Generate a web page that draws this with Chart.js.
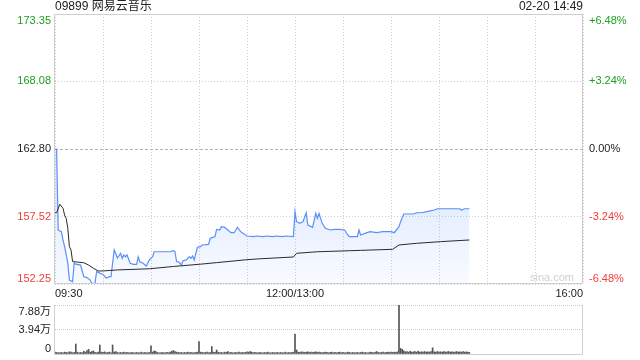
<!DOCTYPE html>
<html>
<head>
<meta charset="utf-8">
<script src="https://cdn.jsdelivr.net/npm/chart.js@4/dist/chart.umd.min.js"></script>
<style>
  body { margin: 0; background: #fff; }
  #wrap { position: relative; width: 640px; height: 360px; }
  #priceBox { position: absolute; left: 0; top: 0; }
  #volBox { position: absolute; left: 0; top: 300px; }
</style>
</head>
<body>
<div id="wrap">
  <div id="priceBox"><canvas id="priceChart" width="640" height="300"></canvas></div>
  <div id="volBox"><canvas id="volChart" width="640" height="60"></canvas></div>
</div>
<script>
// Dados: minutos desde 09:30 (almoço 12:00-13:00 removido)
const stockTitle = '09899 网易云音乐';
const stampText = '02-20 14:49';

const priceMinutes = [0, 1, 2, 4, 5, 6, 8, 9, 11, 12, 13, 16, 18, 20, 22, 23, 25, 26, 28, 30,
  32, 34, 35, 37, 39, 41, 42, 43, 44, 45, 47, 49, 51, 52, 53, 55, 57, 59, 61, 62,
  72, 74, 75, 76, 77, 78, 79, 80, 82, 84, 85, 86, 87, 89, 91, 92, 96, 97, 100, 101,
  103, 104, 106, 108, 110, 112, 114, 116, 117, 120, 124, 126, 130, 132, 136, 138, 142, 144, 149,
  150, 151, 153, 155, 157, 158, 161, 163, 164, 165, 167, 169, 172, 175, 178, 181, 183, 184, 189,
  190, 191, 195, 197, 201, 205, 210, 212, 215, 216, 218, 224, 226, 229, 234, 237, 239, 253, 254, 256, 259];
const priceValues = [162.80, 162.80, 156.47, 156.34, 155.69, 155.17, 153.89, 152.56, 152.43, 153.89, 153.80, 153.73, 152.82, 152.75, 152.56, 152.30, 152.30, 153.21, 153.10, 153.00,
  152.72, 152.82, 152.82, 154.91, 154.28, 154.64, 154.26, 154.52, 154.38, 154.52, 153.87, 153.78, 153.78, 154.38, 153.99, 153.87, 153.66, 154.13, 154.38, 154.77,
  154.77, 154.85, 154.77, 153.99, 153.99, 153.89, 153.73, 154.07, 154.13, 154.38, 154.26, 154.44, 154.13, 155.12, 155.17, 155.30, 155.35, 155.82, 155.95, 156.52,
  156.47, 156.73, 156.68, 156.47, 156.26, 156.26, 156.68, 156.34, 156.26, 156.00, 155.95, 156.00, 155.95, 156.00, 155.95, 156.00, 155.95, 156.00, 155.95,
  157.90, 157.12, 156.99, 157.12, 157.82, 156.86, 156.68, 157.77, 157.38, 157.77, 156.99, 156.60, 156.47, 156.52, 156.52, 156.47, 156.08, 155.95, 155.95,
  156.47, 156.08, 156.26, 156.34, 156.26, 156.34, 156.34, 156.26, 156.73, 157.12, 157.72, 157.72, 157.82, 157.82, 157.95, 158.03, 158.13, 158.13, 158.03, 158.13, 158.13];

const avgMinutes = [0, 1, 3, 5, 6, 7, 8, 9, 10, 11, 18, 21, 24, 27, 30, 39, 59, 74, 91, 101,
  120, 128, 149, 151, 164, 184, 191, 211, 215, 226, 241, 259];
const avgValues = [157.82, 157.82, 158.48, 158.17, 157.64, 157.38, 156.60, 155.17, 154.91, 154.00, 153.91, 153.73, 153.48, 153.27, 153.27, 153.35, 153.44, 153.62, 153.80, 153.92,
  154.15, 154.22, 154.36, 154.65, 154.77, 154.85, 154.88, 154.96, 155.30, 155.43, 155.56, 155.69];

// volume por minuto (万股), minuto 0..259
const volumeValues = [
  0.3, 0.25, 0.2, 0.2, 0.25, 0.2, 0.3, 0.25, 0.2, 0.35,
  0.3, 0.2, 0.25, 1.6, 0.3, 0.2, 0.25, 0.2, 0.45, 0.3,
  0.55, 0.75, 0.3, 0.4, 0.5, 0.25, 0.2, 0.3, 1.45, 0.3,
  0.25, 0.35, 0.2, 0.25, 0.3, 0.2, 1.45, 0.3, 0.4, 0.25,
  0.2, 0.25, 0.2, 0.3, 0.2, 0.25, 0.2, 0.2, 0.25, 0.2,
  0.2, 0.25, 0.2, 0.2, 0.3, 0.2, 0.25, 0.2, 0.2, 0.25,
  1.3, 0.3, 0.5, 0.4, 0.25, 0.2, 0.2, 0.25, 0.2, 0.2,
  0.25, 0.2, 0.3, 0.45, 0.55, 0.4, 0.3, 0.25, 0.2, 0.25,
  0.2, 0.25, 0.2, 0.3, 0.2, 0.25, 0.2, 0.2, 0.25, 0.3,
  2.0, 0.3, 0.25, 0.2, 0.25, 0.3, 0.2, 0.25, 1.2, 0.3,
  0.25, 0.65, 0.3, 0.2, 0.25, 0.2, 0.3, 0.25, 0.4, 0.2,
  0.25, 0.2, 0.2, 0.25, 0.2, 0.3, 0.2, 0.25, 0.2, 0.25,
  0.35, 0.3, 0.4, 0.3, 0.2, 0.25, 0.2, 0.2, 0.25, 0.2,
  0.2, 0.25, 0.2, 0.3, 0.2, 0.2, 0.25, 0.2, 0.2, 0.25,
  0.2, 0.25, 0.2, 0.2, 0.3, 0.2, 0.25, 0.2, 0.25, 0.3,
  3.2, 0.65, 0.3, 0.25, 0.35, 0.3, 0.25, 0.3, 0.35, 0.25,
  0.3, 0.25, 0.3, 0.35, 0.25, 0.3, 0.25, 0.2, 0.25, 0.3,
  0.25, 0.2, 0.25, 0.3, 0.2, 0.25, 0.2, 0.25, 0.3, 0.2,
  0.25, 0.2, 0.2, 0.3, 0.25, 0.2, 0.25, 0.2, 0.2, 0.25,
  0.2, 0.25, 0.3, 0.2, 0.25, 0.2, 0.2, 0.3, 0.25, 0.2,
  0.25, 0.4, 0.25, 0.2, 0.25, 0.3, 0.2, 0.25, 0.3, 0.25,
  0.3, 0.25, 0.3, 0.25, 0.35, 7.88, 0.9, 0.75, 0.5, 0.35,
  0.4, 0.3, 0.45, 0.3, 0.35, 0.4, 0.3, 0.45, 0.3, 0.35,
  0.3, 0.4, 0.3, 0.35, 0.3, 0.4, 1.0, 0.35, 0.3, 0.4,
  0.3, 0.35, 0.3, 0.4, 0.3, 0.35, 0.4, 0.3, 0.35, 0.3,
  0.3, 0.4, 0.3, 0.35, 0.3, 0.4, 0.3, 0.35, 0.3, 0.25];

// rótulos dos eixos
const priceTicks = [152.25, 157.52, 162.80, 168.08, 173.35];
const pctLabels = ['-6.48%', '-3.24%', '0.00%', '+3.24%', '+6.48%'];
const timeTicks = [0, 150, 330];
const timeLabels = ['09:30', '12:00/13:00', '16:00'];
const volTicks = [0, 3.94, 7.88];
const volLabels = ['0', '3.94万', '7.88万'];

const prevClose = 162.80;
const FONT = '"Liberation Sans", Arial, "Noto Sans CJK SC", sans-serif';
const GREEN = '#1f9e1f';
const RED = '#f03c3c';

function colorFor(v) {
    if (Math.abs(v - prevClose) < 0.001) return '#222';
    return v > prevClose ? GREEN : RED;
}

// desenha rótulo alinhado por dentro nas extremidades
function drawYLabel(ctx, text, x, y, i, n, align) {
    ctx.textAlign = align;
    if (i === 0) { ctx.textBaseline = 'bottom'; ctx.fillText(text, x, y); }
    else if (i === n - 1) { ctx.textBaseline = 'top'; ctx.fillText(text, x, y + 1); }
    else { ctx.textBaseline = 'middle'; ctx.fillText(text, x, y); }
}

const priceOverlay = {
    id: 'priceOverlay',
    beforeDatasetsDraw(chart) {
        // linha do fecho anterior, tracejada e mais escura
        const { ctx, chartArea: a, scales } = chart;
        const y = Math.round(scales.y.getPixelForValue(prevClose)) + 0.5;
        ctx.save();
        ctx.strokeStyle = '#b0b0b0';
        ctx.lineWidth = 1;
        ctx.setLineDash([3, 2]);
        ctx.beginPath();
        ctx.moveTo(a.left, y);
        ctx.lineTo(a.right, y);
        ctx.stroke();
        ctx.restore();
    },
    afterDraw(chart) {
        const { ctx, chartArea: a, scales } = chart;
        ctx.save();
        // moldura
        ctx.strokeStyle = '#cfcfcf';
        ctx.lineWidth = 1;
        ctx.strokeRect(Math.round(a.left) - 0.5, Math.round(a.top) + 0.5, Math.round(a.right - a.left), Math.round(a.bottom - a.top) - 1);

        // título e hora
        ctx.font = '12px ' + FONT;
        ctx.fillStyle = '#222';
        ctx.textBaseline = 'middle';
        ctx.textAlign = 'left';
        ctx.fillText(stockTitle, a.left, 7);
        ctx.textAlign = 'right';
        ctx.fillText(stampText, a.right, 7);

        // eixo de preço e percentagem
        ctx.font = '11px ' + FONT;
        priceTicks.forEach((v, i) => {
            const y = scales.y.getPixelForValue(v);
            ctx.fillStyle = colorFor(v);
            drawYLabel(ctx, v.toFixed(2), a.left - 4, y, i, priceTicks.length, 'right');
            drawYLabel(ctx, pctLabels[i], a.right + 6, y, i, priceTicks.length, 'left');
        });

        // eixo do tempo
        ctx.fillStyle = '#222';
        ctx.textBaseline = 'middle';
        timeTicks.forEach((t, i) => {
            const x = scales.x.getPixelForValue(t);
            ctx.textAlign = i === 0 ? 'left' : (i === timeTicks.length - 1 ? 'right' : 'center');
            ctx.fillText(timeLabels[i], x, a.bottom + 10);
        });

        // marca d'água
        ctx.fillStyle = '#d0d0d0';
        ctx.textAlign = 'center';
        ctx.textBaseline = 'middle';
        ctx.fillText('sina.com', a.right - 31, a.bottom - 6);
        ctx.restore();
    }
};

const volOverlay = {
    id: 'volOverlay',
    afterDraw(chart) {
        const { ctx, chartArea: a, scales } = chart;
        ctx.save();
        ctx.strokeStyle = '#cfcfcf';
        ctx.lineWidth = 1;
        ctx.beginPath();
        ctx.moveTo(Math.round(a.left) - 0.5, a.top);
        ctx.lineTo(Math.round(a.left) - 0.5, Math.round(a.bottom) + 0.5);
        ctx.lineTo(Math.round(a.right) - 0.5, Math.round(a.bottom) + 0.5);
        ctx.lineTo(Math.round(a.right) - 0.5, a.top);
        ctx.stroke();

        ctx.font = '11px ' + FONT;
        ctx.fillStyle = '#222';
        volTicks.forEach((v, i) => {
            const y = scales.y.getPixelForValue(v);
            drawYLabel(ctx, volLabels[i], a.left - 4, y, i, volTicks.length, 'right');
        });
        ctx.restore();
    }
};

// gradiente sob a linha de preço
function fillGradient(context) {
    const area = context.chart.chartArea;
    if (!area) return 'rgba(91,143,249,0.08)';
    const g = context.chart.ctx.createLinearGradient(0, area.top + 190, 0, area.bottom);
    g.addColorStop(0, 'rgba(91,143,249,0.16)');
    g.addColorStop(1, 'rgba(91,143,249,0.04)');
    return g;
}

const priceConfig = {
    type: 'line',
    data: {
        datasets: [{
            label: 'avg',
            data: avgMinutes.map((m, i) => ({ x: m, y: avgValues[i] })),
            borderColor: '#2a2a2a',
            borderWidth: 1,
            pointRadius: 0,
            fill: false
        }, {
            label: 'price',
            data: priceMinutes.map((m, i) => ({ x: m, y: priceValues[i] })),
            borderColor: '#5b8ff9',
            borderWidth: 1.2,
            pointRadius: 0,
            fill: 'start',
            backgroundColor: fillGradient
        }]
    },
    options: {
        responsive: false,
        animation: false,
        layout: { padding: { top: 14 } },
        plugins: { legend: { display: false }, tooltip: { enabled: false } },
        scales: {
            x: {
                type: 'linear', min: 0, max: 330,
                ticks: { stepSize: 30, display: false },
                grid: { color: '#cdcdcd', drawTicks: false },
                border: { display: false, dash: [1, 2] },
                afterFit: (s) => { s.height = 16; }
            },
            y: {
                min: 152.25, max: 173.35,
                afterBuildTicks: (s) => { s.ticks = priceTicks.map(v => ({ value: v })); },
                ticks: { display: false },
                grid: {
                    drawTicks: false,
                    color: (c) => (c.tick && Math.abs(c.tick.value - prevClose) < 0.001) ? 'rgba(0,0,0,0)' : '#cdcdcd'
                },
                border: { display: false, dash: [1, 2] },
                afterFit: (s) => { s.width = 55; }
            },
            y2: {
                position: 'right',
                min: 152.25, max: 173.35,
                ticks: { display: false },
                grid: { display: false },
                border: { display: false },
                afterFit: (s) => { s.width = 57; }
            }
        }
    },
    plugins: [priceOverlay]
};

const volConfig = {
    type: 'bar',
    data: {
        datasets: [{
            label: 'vol',
            data: volumeValues.map((v, i) => ({ x: i, y: v })),
            backgroundColor: '#555',
            barThickness: 1
        }]
    },
    options: {
        responsive: false,
        animation: false,
        layout: { padding: { top: 5 } },
        plugins: { legend: { display: false }, tooltip: { enabled: false } },
        scales: {
            x: {
                type: 'linear', min: 0, max: 330,
                offset: false,
                ticks: { display: false },
                grid: { display: false, offset: false },
                border: { display: false },
                afterFit: (s) => { s.height = 6; }
            },
            y: {
                min: 0, max: 7.88,
                afterBuildTicks: (s) => { s.ticks = volTicks.map(v => ({ value: v })); },
                ticks: { display: false },
                grid: { color: (c) => c.tick && c.tick.value === 0 ? 'rgba(0,0,0,0)' : '#c8c8c8', drawTicks: false },
                border: { display: false, dash: [1, 1] },
                afterFit: (s) => { s.width = 55; }
            },
            y2: {
                position: 'right',
                min: 0, max: 7.88,
                ticks: { display: false },
                grid: { display: false },
                border: { display: false },
                afterFit: (s) => { s.width = 57; }
            }
        }
    },
    plugins: [volOverlay]
};

new Chart(document.getElementById('priceChart').getContext('2d'), priceConfig);
new Chart(document.getElementById('volChart').getContext('2d'), volConfig);
</script>
</body>
</html>
